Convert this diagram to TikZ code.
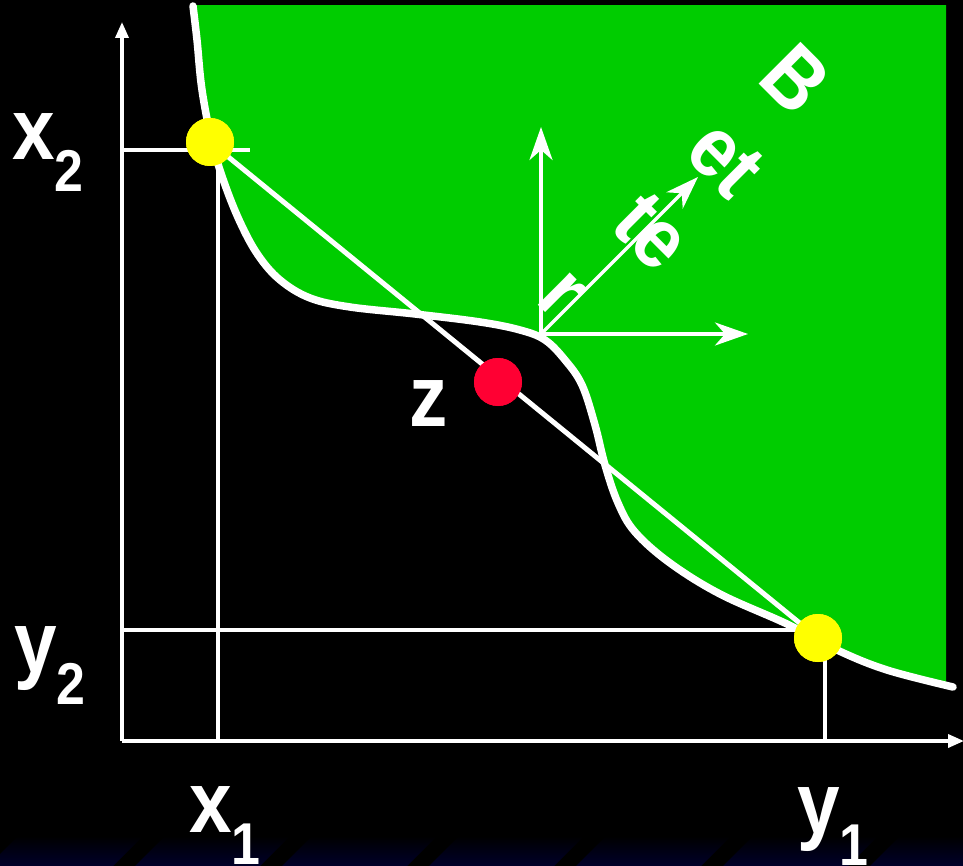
\documentclass[tikz,border=0pt]{standalone}
\usepackage{fontspec}
\setmainfont{Liberation Sans}[FakeStretch=0.88]
\usetikzlibrary{arrows.meta}
\definecolor{setgreen}{RGB}{0,204,0}
\definecolor{dotyellow}{RGB}{255,255,0}
\definecolor{dotred}{RGB}{255,0,51}
\definecolor{slidenavy}{RGB}{0,0,42}
\newcommand{\bigfont}{\fontsize{87}{87}\selectfont\bfseries}
\newcommand{\lblsub}[1]{\raisebox{-32pt}{\fontsize{59}{59}\selectfont\bfseries #1}}
\tikzset{
    axis/.style={white, line width=3.5pt, -{Triangle[length=16pt,width=13pt]}},
    guide/.style={white, line width=4.5pt},
    frontier/.style={white, line width=7.5pt, line cap=round},
    chord/.style={white, line width=5pt},
    vec/.style={white, line width=3.5pt, -{Stealth[length=33pt,width=23pt,inset=10pt]}},
    dot/.style={circle, inner sep=0pt, minimum size=48pt},
    lbl/.style={text=white, font=\bigfont, inner sep=0pt, anchor=base west}
}
\begin{document}
\begin{tikzpicture}[x=1pt, y=-1pt]
    % Background
    \fill[black] (0,0) rectangle (963,866);
    \useasboundingbox (0,0) rectangle (963,866);
    \foreach \k in {0,...,6}
        \shade[top color=black, bottom color=slidenavy]
            (147*\k-12,866) -- (147*\k+18,836) -- (147*\k+143,836) -- (147*\k+113,866) -- cycle;

    % Better set
    \begin{scope}
        \clip (0,6) rectangle (946,866);
        \fill[setgreen] plot[smooth, tension=0.6] coordinates {
            (193,2) (197,40) (202,90) (212,142) (224,182) (240,222) (258,255)
            (280,280) (310,298) (350,307) (415,314) (480,322) (520,330)
            (545,340) (565,360) (582,385) (595,425) (605,465) (618,503) (635,532)
            (670,563) (720,594) (787,624) (837,650) (887,670) (955,687)}
            -- (1000,690) -- (1000,0) -- cycle;
    \end{scope}
    \draw[frontier] plot[smooth, tension=0.6] coordinates {
        (193,6) (197,40) (202,90) (212,142) (224,182) (240,222) (258,255)
        (280,280) (310,298) (350,307) (415,314) (480,322) (520,330)
        (545,340) (565,360) (582,385) (595,425) (605,465) (618,503) (635,532)
        (670,563) (720,594) (787,624) (837,650) (887,670) (953,687)};

    % Points
    \node[dot, fill=dotyellow] (x) at (210,142) {};
    \node[dot, fill=dotyellow] (y) at (818,638) {};
    \node[dot, fill=dotred] (z) at (498,382) {};

    % Axes and guides
    \coordinate (o) at (122,741);
    \coordinate (ytop) at (122,22);
    \coordinate (xend) at (964,741);
    \coordinate (ytwoend) at (818,630);
    \draw[guide] (122,150) -- (250,150);
    \draw[guide] (218,150) -- (218,741);
    \draw[guide] (122,630) -- (ytwoend);
    \draw[guide] (825,638) -- (825,741);
    \draw[axis] (o) -- (ytop);
    \draw[axis] (o) -- (xend);

    % Chord through z
    \draw[chord] (x.center) -- (y.center);
    \node[dot, fill=dotyellow] at (x) {};
    \node[dot, fill=dotyellow] at (y) {};
    \node[dot, fill=dotred] at (z) {};

    % Directions
    \coordinate (base) at (541,334);
    \coordinate (up) at (541,127);
    \coordinate (right) at (748,334);
    \coordinate (diag) at (698,177);
    \draw[vec] (base) -- (up);
    \draw[vec] (base) -- (right);
    \draw[vec] (base) -- (diag);
    \node[rotate=-45, align=left, text=white, inner sep=0pt,
          font=\fontsize{86}{104}\selectfont\bfseries] (better) at (690,194) {B\\et\\te\\r};

    % Labels
    \node[lbl] (xtwo) at (12,160) {x\lblsub{2}};
    \node[lbl] (ytwo) at (14,672) {y\lblsub{2}};
    \node[lbl] (xone) at (189,832) {x\lblsub{1}};
    \node[lbl] (yone) at (797,833) {y\lblsub{1}};
    \node[lbl] (zlbl) at (409,426) {z};
\end{tikzpicture}
\end{document}
